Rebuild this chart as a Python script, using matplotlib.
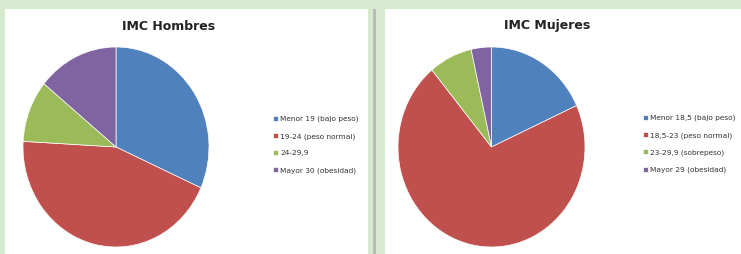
import matplotlib
matplotlib.use('Agg')
from matplotlib import pyplot as plt
import matplotlib as mpl

# data
men_labels = ['Menor 19 (bajo peso)', '19-24 (peso normal)', '24-29,9', 'Mayor 30 (obesidad)']
men_values = [31.7, 44.2, 10, 14.1]
women_labels = ['Menor 18,5 (bajo peso)', '18,5-23 (peso normal)', '23-29,9 (sobrepeso)', 'Mayor 29 (obesidad)']
women_values = [18.2, 70.8, 7.5, 3.5]
colors = ['#4F81BD', '#C0504D', '#9BBB59', '#8064A2']

W, H = 741, 254
fig = plt.figure(figsize=(W/100, H/100), dpi=100)
fig.patch.set_facecolor('#d6ead0')

def px(x, y, w, h):
    # pixel box (top-left origin) -> figure fraction
    return [x/W, 1-(y+h)/H, w/W, h/H]

# background panels in their own axes, behind everything
bg = fig.add_axes([0, 0, 1, 1], zorder=-1)
bg.set_xlim(0, W)
bg.set_ylim(H, 0)
bg.axis('off')
bg.add_patch(mpl.patches.Rectangle((5, 9), 363, H-9, facecolor='white', edgecolor='none'))
bg.add_patch(mpl.patches.Rectangle((373, 9), 3, H-9, facecolor='#b8bcb8', edgecolor='none'))
bg.add_patch(mpl.patches.Rectangle((385, 9), 356, H-9, facecolor='white', edgecolor='none'))

def draw_pie(box, values, labels, title, title_x, leg_x, leg_y):
    ax = fig.add_axes(px(*box))
    wedges, _ = ax.pie(values, colors=colors, startangle=90, counterclock=False,
                       wedgeprops=dict(linewidth=0.5, edgecolor='white'))
    ax.set_aspect('auto')
    ax.set_xlim(-1, 1)
    ax.set_ylim(-1, 1)
    fig.text(title_x/W, 1-26/H, title, ha='center', va='center', fontsize=9,
             fontweight='bold', color='#222222')
    fig.legend(wedges, labels, loc='upper left', bbox_to_anchor=(leg_x/W, 1-leg_y/H),
               frameon=False, fontsize=5.3, handlelength=0.7, handleheight=0.7,
               handletextpad=0.3, labelspacing=1.45, labelcolor='#333333')
    return ax

draw_pie((23, 47, 186, 200), men_values, men_labels, 'IMC Hombres', 169, 266, 109)
draw_pie((398, 47, 187, 200), women_values, women_labels, 'IMC Mujeres', 547, 636, 108)

fig.savefig('out.png', dpi=100, facecolor=fig.get_facecolor())
